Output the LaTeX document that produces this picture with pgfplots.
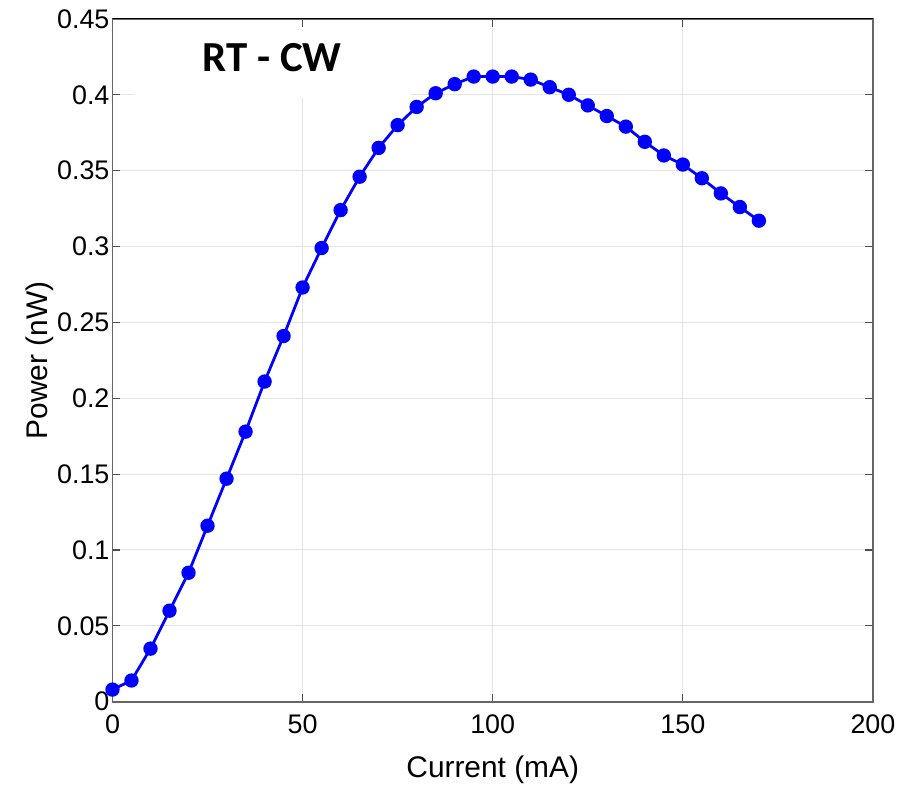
\documentclass[border=0pt]{standalone}
\usepackage{pgfplots}
\pgfplotsset{compat=1.18}
\usepackage{fontspec}
\setmainfont{Liberation Sans}
\newfontfamily\titlefont{Carlito}

\begin{document}
\begin{tikzpicture}
\begin{axis}[
    set layers,
    at={(0,0)}, anchor=south west,
    scale only axis,
    width=382pt, height=343pt,
    xmin=0, xmax=200, ymin=0, ymax=0.45,
    xtick={0,50,...,200},
    ytick={0,0.05,...,0.45},
    yticklabel style={/pgf/number format/fixed, /pgf/number format/precision=2, xshift=2pt},
    xticklabel style={yshift=-3pt},
    /pgf/number format/assume math mode=true,
    tick label style={font=\fontsize{13.5}{15}\selectfont},
    label style={font=\fontsize{15}{17}\selectfont},
    xlabel={Current (mA)},
    ylabel={Power (nW)},
    xlabel style={yshift=-4pt},
    ylabel style={yshift=-5pt},
    grid=major,
    major grid style={gray!22, line width=0.5pt},
    tick align=inside,
    major tick length=4pt,
    axis line style={black!60, line width=0.8pt},
    tick style={black!70, line width=0.6pt},
]
\begin{pgfonlayer}{axis grid}
\fill[white] (axis cs:5.8,0.3976) rectangle (axis cs:78.5,0.45);
\end{pgfonlayer}
\addplot[color=blue, line width=1.4pt, mark=*, mark size=2.9pt, mark options={fill=blue, draw=blue}] coordinates {
(0,0.008) (5,0.014) (10,0.035) (15,0.060) (20,0.085) (25,0.116)
(30,0.147) (35,0.178) (40,0.211) (45,0.241) (50,0.273) (55,0.299)
(60,0.324) (65,0.346) (70,0.365) (75,0.380) (80,0.392) (85,0.401)
(90,0.407) (95,0.412) (100,0.412) (105,0.412) (110,0.410) (115,0.405)
(120,0.400) (125,0.393) (130,0.386) (135,0.379) (140,0.369) (145,0.360)
(150,0.354) (155,0.345) (160,0.335) (165,0.326) (170,0.317)
};
\draw[black, line width=0.6pt] (rel axis cs:0,1) -- (rel axis cs:1,1);
\node[font=\titlefont\bfseries\fontsize{21.5}{24}\selectfont] at (axis cs:42,0.4245) {RT - CW};
\end{axis}
\path (-56.5pt,-40pt) rectangle (394.5pt,352.5pt);
\end{tikzpicture}
\end{document}
